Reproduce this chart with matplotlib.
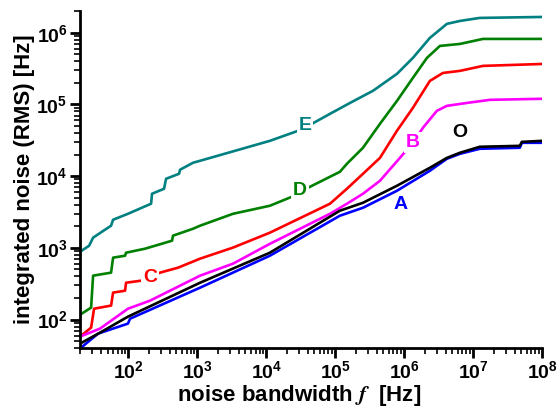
import matplotlib
matplotlib.use("Agg")
import matplotlib.pyplot as plt
from matplotlib.ticker import LogLocator, NullFormatter

plt.rcParams['font.family'] = ['Liberation Sans', 'DejaVu Sans']
plt.rcParams['font.weight'] = 'bold'
plt.rcParams['mathtext.fontset'] = 'stix'

# curve E (teal)
f_E = [20, 27, 30.9, 56.3, 60.2, 99, 214, 221, 330, 353, 544, 563, 869, 1100,
       11300, 28900, 46000, 84000, 1.64e5, 3.53e5, 7.86e5, 1.34e6, 2.36e6,
       4.17e6, 6.43e6, 1.25e7, 1e8]
v_E = [885, 1070, 1390, 2040, 2470, 2990, 4130, 5690, 6680, 9200, 10800, 12300,
       15400, 16400, 31100, 42900, 53700, 74000, 1.05e5, 1.55e5, 2.67e5,
       4.46e5, 8.47e5, 1.33e6, 1.46e6, 1.61e6, 1.66e6]

# curve D (green)
f_D = [20, 28.9, 30.9, 56.3, 60.2, 89.8, 92.8, 175, 431, 445, 869, 1100, 3300,
       11300, 23600, 40300, 84000, 1.17e5, 1.48e5, 2.53e5, 4.46e5, 7.86e5,
       1.34e6, 2.14e6, 3.3e6, 6.43e6, 1.39e7, 1e8]
v_D = [117, 147, 410, 452, 731, 778, 857, 975, 1260, 1480, 1850, 2040, 2990,
       3870, 5170, 6890, 9810, 11500, 14900, 24900, 53700, 1.12e5, 2.35e5,
       4.46e5, 6.55e5, 6.98e5, 8.2e5, 8.2e5]

# curve C (red)
f_C = [20, 28.9, 31.9, 56.3, 60.2, 89.8, 92.8, 153, 289, 527, 1100, 3300,
       11300, 84000, 1.48e5, 2.53e5, 4.46e5, 7.86e5, 1.34e6, 2.36e6, 3.65e6,
       6.43e6, 1.39e7, 1e8]
v_C = [58, 77.4, 142, 157, 238, 253, 327, 349, 452, 530, 708, 1010, 1630, 4130,
       6680, 10800, 18000, 42900, 89700, 2.13e5, 2.75e5, 2.94e5, 3.45e5, 3.67e5]

# curve B (magenta)
f_B = [20, 39, 99, 207, 1100, 3300, 11300, 84000, 1.48e5, 2.53e5, 4.46e5,
       8.68e5, 1.34e6, 1.87e6, 2.98e6, 4.17e6, 8.12e6, 1.75e7, 1e8]
v_B = [58, 75, 142, 184, 410, 603, 1140, 2990, 4130, 5690, 8630, 18000, 29200,
       47200, 81500, 95700, 1.05e5, 1.16e5, 1.2e5]

# curve O (black)
f_O = [20, 39, 99, 1100, 11300, 1.17e5, 2.53e5, 7.86e5, 2.36e6, 4.17e6,
       6.43e6, 1.25e7, 4.76e7, 5.09e7, 1e8]
v_O = [46.3, 65.9, 110, 327, 857, 3300, 4260, 7350, 13100, 18000, 21200,
       25700, 26500, 30100, 31100]

# curve A (blue)
f_A = [20, 25.3, 36.5, 99, 106, 1100, 11300, 1.17e5, 2.53e5, 7.86e5, 2.36e6,
       4.17e6, 6.43e6, 1.25e7, 4.76e7, 5.09e7, 1e8]
v_A = [39.5, 47.8, 63.8, 88, 103, 279, 778, 2810, 3630, 6260, 11900, 17500,
       20500, 24100, 24900, 29200, 29200]

x_ticks = [1e2, 1e3, 1e4, 1e5, 1e6, 1e7, 1e8]
y_ticks = [1e2, 1e3, 1e4, 1e5, 1e6]

curves = [
    (f_E, v_E, '#008080', 'E', (36500, 50400)),
    (f_D, v_D, '#008000', 'D', (30900, 6260)),
    (f_C, v_C, '#ff0000', 'C', (207, 385)),
    (f_B, v_B, '#ff00ff', 'B', (1.34e6, 29200)),
    (f_A, v_A, '#0000ff', 'A', (8.98e5, 4000)),
    (f_O, v_O, '#000000', 'O', (6.43e6, 40200)),
]

fig = plt.figure(figsize=(5.6, 4.13), dpi=100)
ax = fig.add_axes([0.143, 0.157, 0.825, 0.816])

for f, v, color, name, pos in curves:
    ax.plot(f, v, color=color, lw=1.9)
    box = None
    if name not in ('O', 'A'):
        box = dict(boxstyle='square,pad=0.1', fc='white', ec='none')
    ax.text(pos[0], pos[1], name, color=color, fontsize=14, fontweight='bold',
            ha='center', va='center', zorder=5, bbox=box)

ax.set_xscale('log')
ax.set_yscale('log')
ax.set_xlim(20, 1e8)
ax.set_ylim(40, 2e6)
ax.set_xticks(x_ticks)
ax.set_yticks(y_ticks)

ax.spines['top'].set_visible(False)
ax.spines['right'].set_visible(False)
for s in ('left', 'bottom'):
    ax.spines[s].set_linewidth(2)

ax.xaxis.set_minor_locator(LogLocator(base=10, subs=range(2, 10), numticks=20))
ax.yaxis.set_minor_locator(LogLocator(base=10, subs=range(2, 10), numticks=20))
ax.xaxis.set_minor_formatter(NullFormatter())
ax.yaxis.set_minor_formatter(NullFormatter())
ax.tick_params(which='major', direction='out', length=7, width=2, labelsize=14, pad=2)
ax.tick_params(which='minor', direction='out', length=4, width=1.2)
for lab in ax.get_xticklabels() + ax.get_yticklabels():
    lab.set_fontweight('bold')

ax.set_xlabel(r'noise bandwidth $f$  [Hz]', fontsize=16, fontweight='bold',
              labelpad=0, x=0.475)
ax.set_ylabel('integrated noise (RMS) [Hz]', fontsize=16, fontweight='bold', labelpad=1)

fig.savefig('out.png', dpi=100)
